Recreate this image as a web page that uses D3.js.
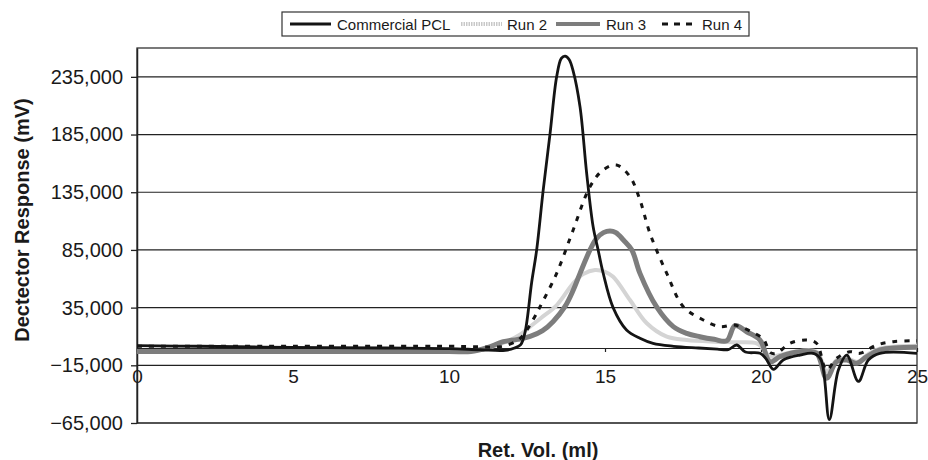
<!DOCTYPE html>
<html>
<head>
<meta charset="utf-8">
<script src="https://cdn.jsdelivr.net/npm/d3@7"></script>
<style>
  body { margin: 0; background: #fff; }
  text { font-family: "Liberation Sans", Arial, sans-serif; fill: #1a1a1a; }
</style>
</head>
<body>
<script>
// values (Ret. Vol. in ml, response in mV)
const pclX = [0, 2, 5, 8, 10, 11, 11.8, 12.1, 12.3, 12.44, 12.65, 12.81, 13.02, 13.24, 13.45, 13.6, 13.72, 13.85, 13.98, 14.2, 14.41, 14.62, 14.78, 14.94, 15.26, 15.69, 16.12, 16.54, 17.2, 18.0, 18.6, 18.95, 19.22, 19.5, 19.97, 20.15, 20.4, 20.71, 21.25, 21.68, 21.92, 22.19, 22.48, 22.75, 23.12, 23.44, 23.81, 25]
const pclY = [2000, 1500, 500, 0, -500, -1500, -2000, 0, 3000, 14000, 57000, 85000, 137000, 186000, 235000, 251000, 253000, 250000, 240000, 209000, 152000, 105000, 85000, 65000, 35000, 15600, 8400, 4000, 1500, 0, -1000, -1500, 2600, -3500, -4600, -9000, -18500, -10400, -6100, -4600, -10000, -62000, -19000, -6100, -29000, -10400, -4600, -4600]

const run2X = [0, 5, 10, 11, 11.7, 12.3, 12.6, 12.95, 13.45, 13.98, 14.3, 14.68, 15.0, 15.26, 15.8, 16.34, 16.98, 17.62, 18.5, 19.22, 19.86, 20.05, 20.29, 20.6, 21.25, 21.8, 22.1, 22.45, 22.75, 23.1, 23.4, 23.8, 25]
const run2Y = [-2500, -2500, -2500, -1500, 4000, 12000, 18500, 26000, 37000, 56000, 64000, 67600, 66000, 61800, 41600, 21400, 9800, 6900, 5500, 5000, 4100, 0, -7500, -6000, -2500, -3500, -20000, -10000, -9000, -12000, -6000, -500, 2000]

const run3X = [0, 5, 10, 10.7, 11.2, 11.74, 12.2, 12.6, 13.0, 13.34, 13.72, 13.98, 14.2, 14.52, 14.73, 14.95, 15.16, 15.35, 15.59, 15.86, 16.12, 16.65, 17.19, 17.62, 18.04, 18.5, 18.9, 19.17, 19.54, 19.97, 20.29, 20.61, 21.25, 21.78, 22.1, 22.42, 22.75, 23.07, 23.39, 23.81, 25]
const run3Y = [-3000, -3000, -3000, -3000, 0, 5500, 7500, 10000, 15000, 23000, 36000, 50000, 64700, 85000, 95000, 100000, 101500, 100000, 93600, 85000, 64700, 35800, 18500, 12700, 9800, 7500, 6200, 19500, 14100, 6900, -11900, -7500, -3200, -4600, -26300, -11900, -10400, -13300, -7500, -1700, 600]

const run4X = [0, 5, 10, 11, 11.63, 12.17, 12.4, 12.81, 12.92, 13.45, 13.98, 14.52, 14.94, 15.37, 15.8, 16.12, 16.44, 16.98, 17.51, 18.15, 18.69, 19.1, 19.33, 19.97, 20.1, 20.3, 20.5, 20.93, 21.46, 21.78, 22.1, 22.42, 22.85, 23.17, 23.71, 24.24, 25]
const run4Y = [1500, 1500, 1500, 1000, 1100, 6000, 12000, 30000, 35800, 64700, 102300, 139800, 154300, 158600, 148500, 128300, 99400, 64700, 35800, 24300, 18500, 19900, 18500, 10000, 7000, -4000, -4600, 4100, 6900, 4100, -19000, -8900, -3200, -4600, 2600, 5500, 6300]

const yTicks = [-65000, -15000, 35000, 85000, 135000, 185000, 235000]
const xTicks = [0, 5, 10, 15, 20, 25]
const seriesNames = ["Commercial PCL", "Run 2", "Run 3", "Run 4"]

const m = { width: 928, height: 460 }
const plot = { left: 137, right: 917, top: 48, bottom: 423 }

const svg = d3.select("body").append("svg")
    .attr("width", m.width)
    .attr("height", m.height)

const x = d3.scaleLinear().domain([0, 25]).range([plot.left, plot.right])
const y = d3.scaleLinear().domain([-65000, 260000]).range([plot.bottom, plot.top])

// gridlines
svg.append("g")
  .selectAll("line")
  .data(yTicks)
  .join("line")
    .attr("x1", plot.left).attr("x2", plot.right)
    .attr("y1", d => y(d)).attr("y2", d => y(d))
    .attr("stroke", "#222").attr("stroke-width", 1.2)

// plot border
svg.append("rect")
  .attr("x", plot.left).attr("y", plot.top)
  .attr("width", plot.right - plot.left).attr("height", plot.bottom - plot.top)
  .attr("fill", "none").attr("stroke", "#333").attr("stroke-width", 1.3)

// y axis
const yAxis = svg.append("g")
  .attr("transform", `translate(${plot.left},0)`)
  .call(d3.axisLeft(y).tickValues(yTicks).tickSize(6).tickSizeOuter(0).tickPadding(8)
    .tickFormat(d3.format(",")))
yAxis.select(".domain").attr("stroke", "#222").attr("stroke-width", 1.5)
yAxis.selectAll(".tick line").attr("stroke", "#222").attr("stroke-width", 1.3)
yAxis.selectAll("text").attr("font-size", 20).attr("fill", "#1a1a1a")
  .style("font-family", "Liberation Sans, Arial, sans-serif")

// x axis crosses at zero
const xAxis = svg.append("g")
  .attr("transform", `translate(0,${y(0)})`)
  .call(d3.axisBottom(x).tickValues(xTicks).tickSize(4).tickSizeOuter(0))
xAxis.select(".domain").attr("stroke", "#222").attr("stroke-width", 1.2)
xAxis.selectAll(".tick line").attr("stroke", "#222").attr("stroke-width", 1.2)
xAxis.selectAll("text").attr("font-size", 19).attr("y", 35).attr("dy", 0)
  .attr("fill", "#1a1a1a").style("font-family", "Liberation Sans, Arial, sans-serif")

const line = d3.line().curve(d3.curveCatmullRom.alpha(0.5))
  .x(d => x(d[0])).y(d => y(d[1]))

const zip = (xs, ys) => xs.map((v, i) => [v, ys[i]])

const styles = [
  { name: seriesNames[1], data: zip(run2X, run2Y), color: "#d4d4d4", width: 4, dash: null },
  { name: seriesNames[2], data: zip(run3X, run3Y), color: "#7d7d7d", width: 5, dash: null },
  { name: seriesNames[0], data: zip(pclX, pclY), color: "#141414", width: 2.8, dash: null },
  { name: seriesNames[3], data: zip(run4X, run4Y), color: "#141414", width: 3, dash: "5,7" }
]

svg.append("g").selectAll("path")
  .data(styles)
  .join("path")
    .attr("d", d => line(d.data))
    .attr("fill", "none")
    .attr("stroke", d => d.color)
    .attr("stroke-width", d => d.width)
    .attr("stroke-dasharray", d => d.dash)
    .attr("stroke-linejoin", "round")

// legend
const legend = svg.append("g")
legend.append("rect")
  .attr("x", 282).attr("y", 12).attr("width", 467).attr("height", 24)
  .attr("fill", "#fff").attr("stroke", "#333").attr("stroke-width", 1.2)

const legendItems = [
  { name: seriesNames[0], x1: 290, x2: 331, tx: 337, color: "#141414", width: 3, dash: null },
  { name: seriesNames[1], x1: 461, x2: 502, tx: 507, color: "#c8c8c8", width: 4, dash: "1.5,1" },
  { name: seriesNames[2], x1: 556, x2: 600, tx: 606, color: "#7d7d7d", width: 4, dash: null },
  { name: seriesNames[3], x1: 662, x2: 692, tx: 702, color: "#141414", width: 3, dash: "6,6" }
]
legend.selectAll("line")
  .data(legendItems)
  .join("line")
    .attr("x1", d => d.x1).attr("x2", d => d.x2)
    .attr("y1", 24).attr("y2", 24)
    .attr("stroke", d => d.color).attr("stroke-width", d => d.width)
    .attr("stroke-dasharray", d => d.dash)
legend.selectAll("text")
  .data(legendItems)
  .join("text")
    .attr("x", d => d.tx).attr("y", 29.5)
    .attr("font-size", 15)
    .text(d => d.name)

// axis titles
svg.append("text")
  .attr("transform", "translate(29,220) rotate(-90)")
  .attr("text-anchor", "middle")
  .attr("font-size", 20).attr("font-weight", "bold")
  .text("Dectector Response (mV)")

svg.append("text")
  .attr("x", 538).attr("y", 457)
  .attr("text-anchor", "middle")
  .attr("font-size", 20).attr("font-weight", "bold")
  .text("Ret. Vol. (ml)")
</script>
</body>
</html>
